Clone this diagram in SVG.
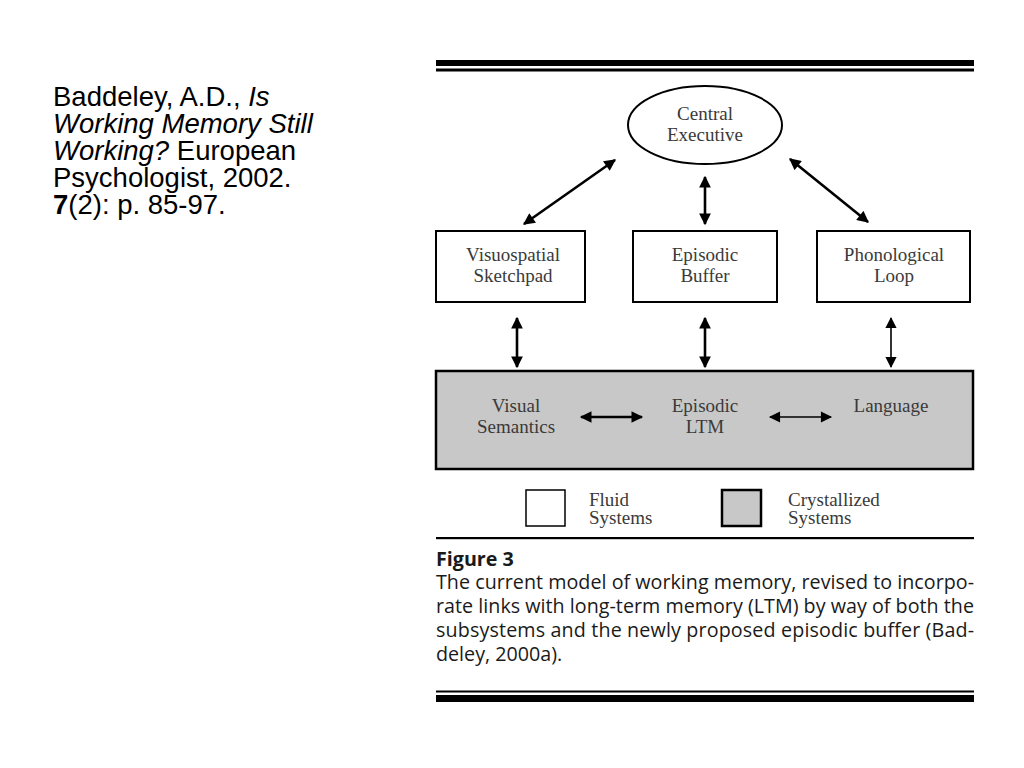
<svg xmlns="http://www.w3.org/2000/svg" width="1024" height="768" viewBox="0 0 1024 768">
<defs>
<marker id="ah" viewBox="0 0 10 10" refX="9" refY="5" markerWidth="5" markerHeight="4.5" orient="auto-start-reverse" markerUnits="strokeWidth">
<path d="M0,0 L10,5 L0,10 Z" fill="#000"/>
</marker>
<marker id="ah2" viewBox="0 0 10 10" refX="9" refY="5" markerWidth="8" markerHeight="7" orient="auto-start-reverse" markerUnits="strokeWidth">
<path d="M0,0 L10,5 L0,10 Z" fill="#000"/>
</marker>
<style>
.lbl{font-family:"Liberation Serif","Times New Roman",serif;font-size:19px;fill:#3a3a3a;text-anchor:middle}
.leg{font-family:"Liberation Serif","Times New Roman",serif;font-size:19px;fill:#3a3a3a}
.box{fill:#fff;stroke:#000;stroke-width:2}
.gbox{fill:#c8c8c8;stroke:#000;stroke-width:2.5}
.thick{stroke:#000;stroke-width:2.6;fill:none;marker-start:url(#ah);marker-end:url(#ah)}
.thin{stroke:#000;stroke-width:1.6;fill:none;marker-start:url(#ah2);marker-end:url(#ah2)}
.cit{font-family:"Liberation Sans",Arial,sans-serif;font-size:27.5px;fill:#000}
.cap{font-family:"Open Sans","Liberation Sans",sans-serif;font-size:19.7px;fill:#1a1a1a}
</style>
</defs>
<rect width="1024" height="768" fill="#fff"/>

<g id="citation">
<text class="cit" x="53" y="106">Baddeley, A.D., <tspan font-style="italic">Is</tspan></text>
<text class="cit" x="53" y="133" font-style="italic">Working Memory Still</text>
<text class="cit" x="53" y="160"><tspan font-style="italic">Working?</tspan> European</text>
<text class="cit" x="53" y="187">Psychologist, 2002.</text>
<text class="cit" x="53" y="214"><tspan font-weight="bold">7</tspan>(2): p. 85-97.</text>
</g>

<g id="rules">
<rect x="436" y="60" width="538" height="6" fill="#000"/>
<rect x="436" y="68.5" width="538" height="3" fill="#000"/>
<rect x="436" y="537" width="538" height="2.2" fill="#000"/>
<rect x="436" y="690.5" width="538" height="2" fill="#000"/>
<rect x="436" y="695" width="538" height="7" fill="#000"/>
</g>

<g id="central-executive">
<ellipse cx="705" cy="125" rx="77" ry="39" fill="#fff" stroke="#000" stroke-width="2"/>
<text class="lbl" x="705" y="120">Central</text>
<text class="lbl" x="705" y="141">Executive</text>
</g>

<g id="visuospatial-sketchpad">
<rect class="box" x="436" y="231" width="149" height="71"/>
<text class="lbl" x="513" y="261">Visuospatial</text>
<text class="lbl" x="513" y="282">Sketchpad</text>
</g>

<g id="episodic-buffer">
<rect class="box" x="633" y="231" width="144" height="71"/>
<text class="lbl" x="705" y="261">Episodic</text>
<text class="lbl" x="705" y="282">Buffer</text>
</g>

<g id="phonological-loop">
<rect class="box" x="817" y="231" width="153" height="71"/>
<text class="lbl" x="894" y="261">Phonological</text>
<text class="lbl" x="894" y="282">Loop</text>
</g>

<g id="ltm">
<rect class="gbox" x="436" y="371" width="537" height="98"/>
<g id="visual-semantics">
<text class="lbl" x="516" y="412">Visual</text>
<text class="lbl" x="516" y="433">Semantics</text>
</g>
<g id="episodic-ltm">
<text class="lbl" x="705" y="412">Episodic</text>
<text class="lbl" x="705" y="433">LTM</text>
</g>
<g id="language">
<text class="lbl" x="891" y="412">Language</text>
</g>
</g>

<g id="connectors">
<line class="thick" x1="615" y1="160" x2="524" y2="224"/>
<line class="thick" x1="705" y1="177" x2="705" y2="224"/>
<line class="thick" x1="790" y1="159" x2="868" y2="222"/>
<line class="thick" x1="517" y1="318" x2="517" y2="367"/>
<line class="thick" x1="705" y1="318" x2="705" y2="367"/>
<line class="thin" x1="891" y1="318" x2="891" y2="367"/>
<line class="thick" x1="581" y1="417" x2="642" y2="417"/>
<line class="thin" x1="770" y1="417" x2="831" y2="417"/>
</g>

<g id="legend">
<rect x="526" y="490" width="39" height="36" fill="#fff" stroke="#000" stroke-width="1.5"/>
<text class="leg" x="589" y="506">Fluid</text>
<text class="leg" x="589" y="524">Systems</text>
<rect x="722" y="490" width="39" height="36" fill="#c8c8c8" stroke="#000" stroke-width="2.5"/>
<text class="leg" x="788" y="506">Crystallized</text>
<text class="leg" x="788" y="524">Systems</text>
</g>

<g id="caption">
<text class="cap" x="436" y="566" font-weight="bold" font-size="21">Figure 3</text>
<text class="cap" x="436" y="589" textLength="538" lengthAdjust="spacing">The current model of working memory, revised to incorpo-</text>
<text class="cap" x="436" y="613" textLength="538" lengthAdjust="spacing">rate links with long-term memory (LTM) by way of both the</text>
<text class="cap" x="436" y="637" textLength="538" lengthAdjust="spacing">subsystems and the newly proposed episodic buffer (Bad-</text>
<text class="cap" x="436" y="661">deley, 2000a).</text>
</g>
</svg>
